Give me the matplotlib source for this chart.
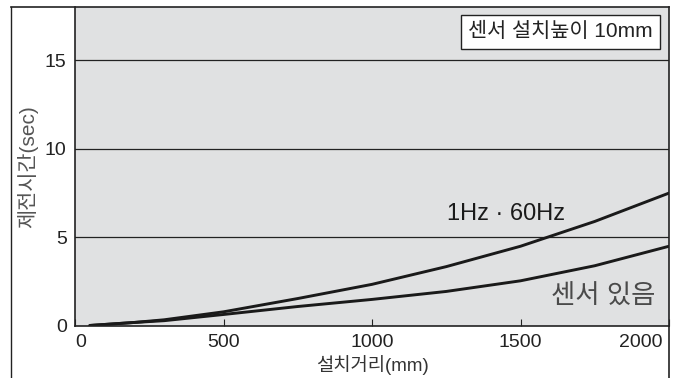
import matplotlib
matplotlib.use("Agg")
import matplotlib.pyplot as plt
from matplotlib.lines import Line2D
import matplotlib.transforms as mtransforms

plt.rcParams['font.family'] = ['Liberation Sans', 'Noto Sans CJK KR', 'DejaVu Sans']
MIX = ['Liberation Sans', 'Noto Sans CJK KR', 'DejaVu Sans']

# Data
distance_mm = [50, 200, 300, 500, 750, 1000, 1250, 1500, 1750, 2000]
time_1hz_60hz = [0.03, 0.2, 0.35, 0.8, 1.55, 2.35, 3.35, 4.5, 5.9, 7.5]
time_with_sensor = [0.03, 0.2, 0.3, 0.65, 1.1, 1.5, 1.95, 2.55, 3.4, 4.5]
x_ticks = [0, 500, 1000, 1500, 2000]
y_ticks = [0, 5, 10, 15]

W, H = 680, 378
fig = plt.figure(figsize=(W / 100, H / 100), dpi=100)
ax = fig.add_axes([75 / W, (H - 326) / H, (669 - 75) / W, (326 - 7) / H])
ax.set_facecolor('#e0e1e2')

ax.plot(distance_mm, time_1hz_60hz, color='#1a1a1a', lw=2.1, solid_capstyle='round')
ax.plot(distance_mm, time_with_sensor, color='#1a1a1a', lw=2.1, solid_capstyle='round')

ax.set_xlim(0, 2000)
ax.set_ylim(0, 18)
for yv in y_ticks[1:]:
    ax.axhline(yv, color='#222222', lw=0.9, zorder=1)

ax.set_xticks(x_ticks)
ax.set_xticklabels([str(v) for v in x_ticks])
ax.set_yticks(y_ticks)
ax.set_yticklabels([str(v) for v in y_ticks])
ax.tick_params(axis='x', direction='in', length=5, width=0.8, labelsize=14, pad=6, colors='#222222')
ax.tick_params(axis='y', length=0, labelsize=14, pad=6, colors='#222222')
labs = ax.get_xticklabels()
labs[0].set_ha('left')
labs[-1].set_ha('right')
labs[-1].set_transform(labs[-1].get_transform() +
                       mtransforms.ScaledTranslation(-6 / 100, 0, fig.dpi_scale_trans))

for s in ['left', 'bottom', 'right']:
    ax.spines[s].set_color('#222222')
    ax.spines[s].set_linewidth(1.2)
ax.spines['top'].set_visible(False)

ax.set_xlabel('설치거리(mm)', fontsize=13.5, color='#333333', labelpad=3, family=MIX)
ax.set_ylabel('제전시간(sec)', fontsize=15, color='#555555', labelpad=5, family=MIX)

ax.text(1450, 6.3, '1Hz · 60Hz', fontsize=17, ha='center', va='center', color='#1a1a1a', family=MIX)
ax.text(1780, 1.65, '센서 있음', fontsize=19, ha='center', va='center', color='#4a4a4a',
        family=MIX)
ax.text(1635, 16.6, '센서 설치높이 10mm', fontsize=15, ha='center', va='center', color='#222222',
        family=MIX,
        bbox=dict(boxstyle='square,pad=0.35', facecolor='white', edgecolor='#222222', lw=1.0))

# outer frame lines
def fx(px):
    return px / W
def fy(py):
    return 1 - py / H
fig.add_artist(Line2D([fx(11), fx(11)], [fy(7), 0], color='#222222', lw=1.0, transform=fig.transFigure))
fig.add_artist(Line2D([fx(11), fx(669)], [fy(7), fy(7)], color='#222222', lw=1.2, transform=fig.transFigure))
fig.add_artist(Line2D([fx(669), fx(669)], [fy(326), 0], color='#222222', lw=1.2, transform=fig.transFigure))

fig.savefig('out.png', dpi=100)
